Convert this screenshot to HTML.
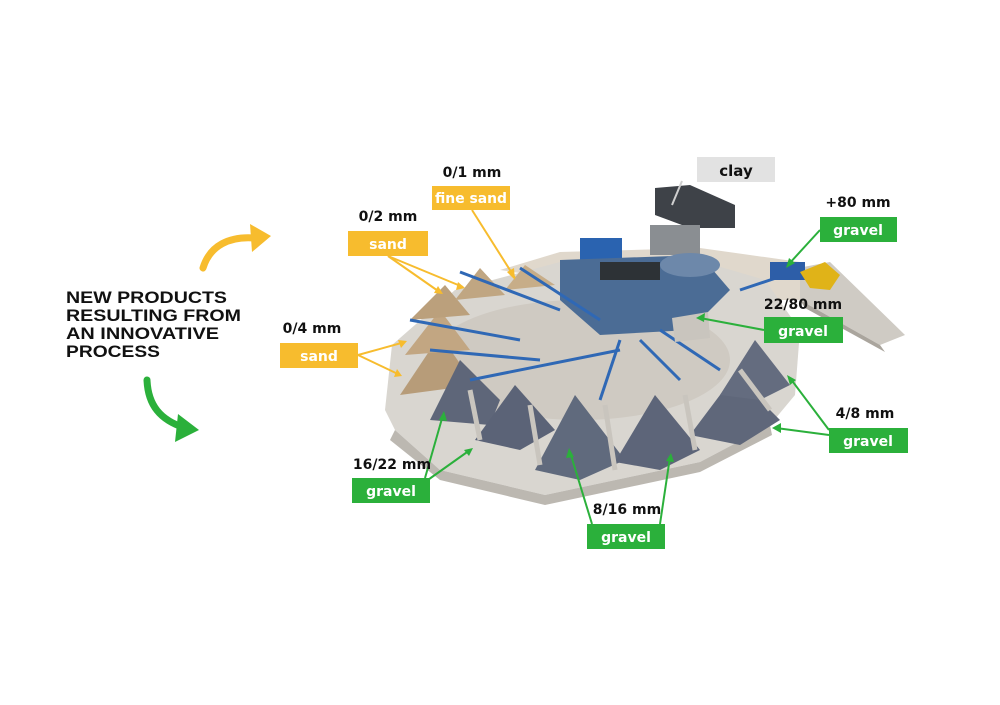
<!DOCTYPE html>
<html><head><meta charset="utf-8"><style>
html,body{margin:0;padding:0;background:#fff;}
svg{display:block}
text{font-family:"Liberation Sans",sans-serif;}
.m{font-family:"DejaVu Sans","Liberation Sans",sans-serif;font-size:14px;font-weight:bold;fill:#111;text-anchor:middle}
.l{font-family:"DejaVu Sans","Liberation Sans",sans-serif;font-size:14px;font-weight:bold;fill:#fff;text-anchor:middle}
</style></head><body>
<svg width="1000" height="705" viewBox="0 0 1000 705" xmlns="http://www.w3.org/2000/svg">
<rect width="1000" height="705" fill="#fff"/>
<g font-weight="bold" font-size="17" fill="#111">
<text x="66" y="303" textLength="161" lengthAdjust="spacingAndGlyphs">NEW PRODUCTS</text>
<text x="66" y="321" textLength="175" lengthAdjust="spacingAndGlyphs">RESULTING FROM</text>
<text x="66" y="339" textLength="153" lengthAdjust="spacingAndGlyphs">AN INNOVATIVE</text>
<text x="66" y="357" textLength="94" lengthAdjust="spacingAndGlyphs">PROCESS</text>
</g>
<path d="M203,268 C210,245 230,236 255,238" stroke="#f7bc2e" stroke-width="7" fill="none" stroke-linecap="round"/>
<polygon points="250,224 271,236 252,252" fill="#f7bc2e"/>
<path d="M147,380 C148,405 160,420 185,428" stroke="#2bb03b" stroke-width="7" fill="none" stroke-linecap="round"/>
<polygon points="178,414 199,430 175,442" fill="#2bb03b"/>
<polygon points="760,275 830,262 905,335 880,345 800,300" fill="#cfcbc4"/>
<polygon points="800,300 880,345 885,352 805,308" fill="#aaa59d"/>
<polygon points="500,270 560,252 700,248 800,262 800,300 700,300" fill="#e0d8cc"/>
<polygon points="385,410 392,345 455,290 560,262 690,258 765,280 800,330 795,395 770,425 700,462 545,495 440,470 395,430" fill="#d9d6d0"/>
<polygon points="395,430 440,470 545,495 700,462 770,425 772,435 700,472 545,505 440,480 390,440" fill="#bcb8b1"/>
<ellipse cx="580" cy="360" rx="150" ry="60" fill="#cfcac2"/>
<polygon points="400,395 440,335 475,385" fill="#b79c79"/>
<polygon points="405,355 440,310 470,350" fill="#c2a682"/>
<polygon points="410,320 445,285 470,315" fill="#bba07c"/>
<polygon points="455,300 480,268 505,295" fill="#c0a682"/>
<polygon points="505,290 525,265 555,285" fill="#c7ad88"/>
<polygon points="430,420 460,360 500,400 490,425" fill="#5e6679"/>
<polygon points="475,440 515,385 555,430 520,450" fill="#5b6377"/>
<polygon points="535,470 575,395 625,460 580,480" fill="#606a7d"/>
<polygon points="615,462 655,395 700,450 660,470" fill="#5d6579"/>
<polygon points="690,435 735,375 780,420 740,445" fill="#5f677a"/>
<polygon points="720,395 755,340 790,385 760,400" fill="#646c7f"/>
<g stroke="#c9c5be" stroke-width="5">
<line x1="470" y1="390" x2="480" y2="440"/>
<line x1="530" y1="405" x2="540" y2="465"/>
<line x1="605" y1="405" x2="615" y2="470"/>
<line x1="685" y1="395" x2="695" y2="450"/>
<line x1="740" y1="370" x2="770" y2="410"/>
</g>
<polygon points="655,188 690,185 735,205 735,228 690,228 655,215" fill="#3e4248"/>
<rect x="650" y="225" width="50" height="30" fill="#8a8e92"/>
<rect x="580" y="238" width="42" height="22" fill="#2a63b0"/>
<polygon points="560,260 700,255 730,290 690,330 600,335 560,300" fill="#4b6c95"/>
<rect x="600" y="262" width="60" height="18" fill="#2d3236"/>
<ellipse cx="690" cy="265" rx="30" ry="12" fill="#6d88aa"/>
<g stroke="#2f68b5" stroke-width="3">
<line x1="460" y1="272" x2="560" y2="310"/>
<line x1="520" y1="268" x2="600" y2="320"/>
<line x1="410" y1="320" x2="520" y2="340"/>
<line x1="430" y1="350" x2="540" y2="360"/>
<line x1="470" y1="380" x2="620" y2="350"/>
<line x1="600" y1="400" x2="620" y2="340"/>
<line x1="680" y1="380" x2="640" y2="340"/>
<line x1="720" y1="370" x2="660" y2="330"/>
<line x1="740" y1="290" x2="800" y2="270"/>
</g>
<rect x="770" y="262" width="35" height="18" fill="#2d5ea8"/>
<polygon points="800,272 825,262 840,275 830,290 810,288" fill="#e0b318"/>
<polygon points="672,318 708,312 710,338 675,342" fill="#c9c5be"/>
<g stroke="#f7bc2e" stroke-width="2" fill="none">
<line x1="472" y1="210" x2="515" y2="278"/>
<line x1="388" y1="256" x2="441" y2="293"/>
<line x1="388" y1="256" x2="463" y2="287"/>
<line x1="358" y1="355" x2="405" y2="342"/>
<line x1="358" y1="355" x2="400" y2="375"/>
</g>
<g fill="#f7bc2e">
<polygon points="515,280 507,272 514,268"/>
<polygon points="443,294 434,293 438,286"/>
<polygon points="465,288 456,290 458,282"/>
<polygon points="407,341 398,340 401,348"/>
<polygon points="402,376 397,369 394,377"/>
</g>
<line x1="682" y1="181" x2="672" y2="205" stroke="#cfcfcf" stroke-width="2"/>
<g stroke="#2bb03b" stroke-width="2" fill="none">
<line x1="820" y1="230" x2="788" y2="265"/>
<line x1="764" y1="330" x2="700" y2="318"/>
<line x1="829" y1="430" x2="790" y2="378"/>
<line x1="829" y1="435" x2="776" y2="428"/>
<line x1="425" y1="478" x2="443" y2="415"/>
<line x1="425" y1="482" x2="470" y2="450"/>
<line x1="592" y1="524" x2="570" y2="452"/>
<line x1="660" y1="524" x2="670" y2="457"/>
</g>
<g fill="#2bb03b">
<polygon points="786,268 789,258 795,263"/>
<polygon points="696,318 705,313 704,322"/>
<polygon points="787,375 796,380 790,385"/>
<polygon points="772,428 781,423 781,433"/>
<polygon points="444,411 447,421 439,420"/>
<polygon points="473,448 469,456 464,450"/>
<polygon points="569,448 574,457 566,458"/>
<polygon points="671,453 674,462 666,461"/>
</g>
<text class="m" x="472" y="177">0/1 mm</text>
<rect x="432" y="186" width="78" height="24" fill="#f7bc2e"/><text class="l" x="471" y="203" textLength="72" lengthAdjust="spacingAndGlyphs">fine sand</text>
<rect x="697" y="157" width="78" height="25" fill="#e2e2e2"/><text class="m" x="736" y="176" style="font-size:15px">clay</text>
<text class="m" x="388" y="221">0/2 mm</text>
<rect x="348" y="231" width="80" height="25" fill="#f7bc2e"/><text class="l" x="388" y="249">sand</text>
<text class="m" x="312" y="333">0/4 mm</text>
<rect x="280" y="343" width="78" height="25" fill="#f7bc2e"/><text class="l" x="319" y="361">sand</text>
<text class="m" x="858" y="207">+80 mm</text>
<rect x="820" y="217" width="77" height="25" fill="#2bb03b"/><text class="l" x="858" y="235">gravel</text>
<text class="m" x="803" y="309">22/80 mm</text>
<rect x="764" y="317" width="79" height="26" fill="#2bb03b"/><text class="l" x="803" y="336">gravel</text>
<text class="m" x="865" y="418">4/8 mm</text>
<rect x="829" y="428" width="79" height="25" fill="#2bb03b"/><text class="l" x="868" y="446">gravel</text>
<text class="m" x="392" y="469">16/22 mm</text>
<rect x="352" y="478" width="78" height="25" fill="#2bb03b"/><text class="l" x="391" y="496">gravel</text>
<text class="m" x="627" y="514">8/16 mm</text>
<rect x="587" y="524" width="78" height="25" fill="#2bb03b"/><text class="l" x="626" y="542">gravel</text>
</svg>
</body></html>
